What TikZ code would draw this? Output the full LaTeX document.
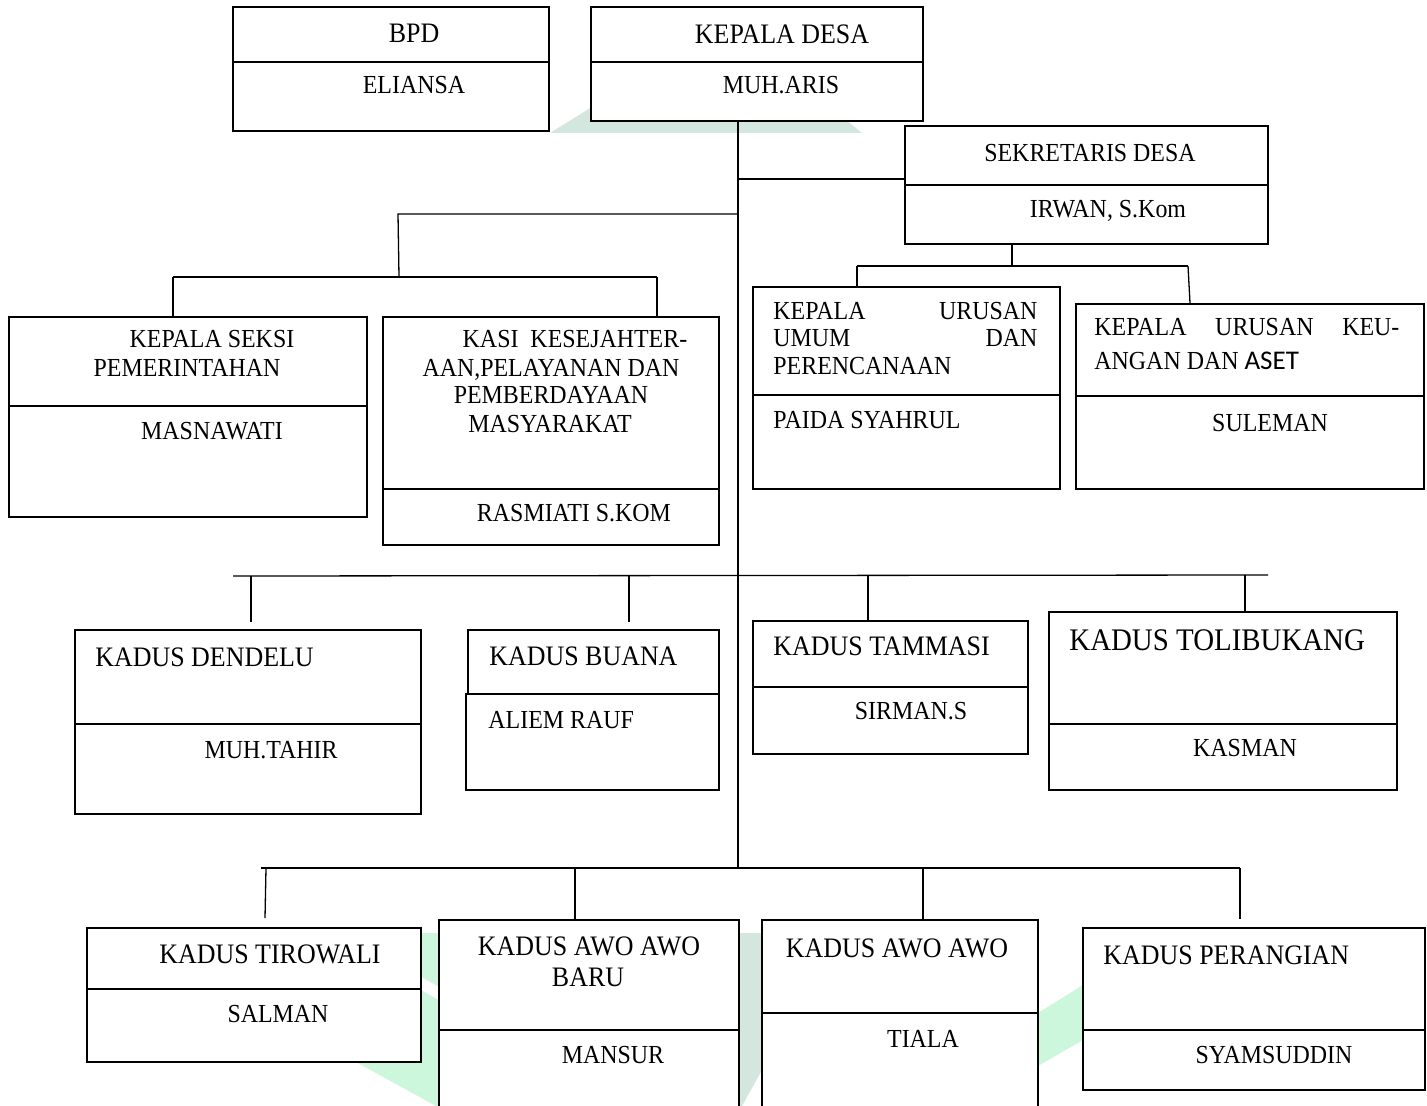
\documentclass[tikz,border=0pt]{standalone}
\usepackage{fontspec}
\setmainfont{Liberation Serif}[FakeStretch=0.92]
\newfontfamily\carlitofont{Carlito}
\usetikzlibrary{fit}
\definecolor{wmgrey}{HTML}{D4E7DE}
\definecolor{wmmint}{HTML}{CCF7DD}
\begin{document}
\begin{tikzpicture}[x=0.5pt,y=-0.5pt,
  box/.style={draw, line width=0.8pt, fill=white, inner sep=0pt},
  conn/.style={line width=0.65pt},
  nm/.style={inner sep=0pt, anchor=base, font=\fontsize{13}{15}\selectfont},
  tt/.style={inner sep=0pt, anchor=base, font=\fontsize{14.1}{16}\selectfont},
  nml/.style={nm, anchor=base west},
  ttl/.style={tt, anchor=base west}]
\fill[white] (0,0) rectangle (1427,1106);
\useasboundingbox (0,0) rectangle (1427,1106);
\clip (0,0) rectangle (1427,1106);
% watermark fragments
\fill[wmgrey] (550,133) -- (592,107) -- (830,107) -- (862,133) -- cycle;
\fill[wmmint] (405,933) -- (439,933) -- (439,1106) -- (436,1106) -- (356,1062) -- (405,1062) -- cycle;
\fill[white] (421,977) -- (439,987) -- (439,1000) -- (421,990) -- cycle;
\fill[wmgrey] (740,933) -- (762,933) -- (762,1070) -- (742,1106) -- (740,1106) -- cycle;
\fill[wmmint] (1038,1013) -- (1083,985) -- (1083,1040) -- (1038,1066) -- cycle;
% junction coordinates
\coordinate (trTop) at (738,121);
\coordinate (trBot) at (738,867);
\coordinate (jSd) at (738,179);
\coordinate (jL) at (738,214);
\coordinate (jL2) at (398,214);
\coordinate (jL3) at (399,277);
\coordinate (hLa) at (173,277);
\coordinate (hLb) at (657,277);
\coordinate (jS1) at (1012,244);
\coordinate (jS2) at (1012,266);
\coordinate (hSa) at (857,266);
\coordinate (hSb) at (1188,266);
\coordinate (r1a) at (233,576);
\coordinate (r1b) at (1268,575);
\coordinate (r2a) at (261,868);
\coordinate (r2b) at (1240,868);
\coordinate (d1) at (251,576);
\coordinate (d2) at (629,576);
\coordinate (d3) at (868,575);
\coordinate (d4) at (1245,575);
\coordinate (e1) at (266,868);
\coordinate (e2) at (575,868);
\coordinate (e3) at (923,868);
\coordinate (e4) at (1240,868);
% connectors
\draw[conn] (trTop) -- (trBot);
\draw[conn] (jL) -- (jL2) -- (jL3);
\draw[conn] (hLa) -- (hLb);
\draw[conn] (r1a) -- (r1b);
\draw[conn] (r2a) -- (r2b);
\draw[conn] (jS2) -- (jS1);
\draw[conn] (hSa) -- (hSb);
% boxes
\node[box, fit={(233,7)(549,62)}] (bpdT) {};
\node[box, fit={(233,62)(549,131)}] (bpdB) {};
\node[box, fit={(591,7)(923,62)}] (kdT) {};
\node[box, fit={(591,62)(923,121)}] (kdB) {};
\node[box, fit={(905,126)(1268,185)}] (sdT) {};
\node[box, fit={(905,185)(1268,244)}] (sdB) {};
\node[box, fit={(9,317)(367,406)}] (ksT) {};
\node[box, fit={(9,406)(367,517)}] (ksB) {};
\node[box, fit={(383,317)(719,489)}] (kaT) {};
\node[box, fit={(383,489)(719,545)}] (kaB) {};
\node[box, fit={(753,287)(1060,395)}] (kuT) {};
\node[box, fit={(753,395)(1060,489)}] (kuB) {};
\node[box, fit={(1076,304)(1424,396)}] (kkT) {};
\node[box, fit={(1076,396)(1424,489)}] (kkB) {};
\node[box, fit={(75,630)(421,724)}] (deT) {};
\node[box, fit={(75,724)(421,814)}] (deB) {};
\node[box, fit={(468,630)(719,694)}] (buT) {};
\node[box, fit={(466,694)(719,790)}] (buB) {};
\node[box, fit={(753,621)(1028,687)}] (taT) {};
\node[box, fit={(753,687)(1028,754)}] (taB) {};
\node[box, fit={(1049,612)(1397,724)}] (toT) {};
\node[box, fit={(1049,724)(1397,790)}] (toB) {};
\node[box, fit={(87,928)(421,989)}] (tiT) {};
\node[box, fit={(87,989)(421,1062)}] (tiB) {};
\node[box, fit={(439,920)(739,1030)}] (abT) {};
\node[box, fit={(439,1030)(739,1115)}] (abB) {};
\node[box, fit={(762,920)(1038,1013)}] (awT) {};
\node[box, fit={(762,1013)(1038,1115)}] (awB) {};
\node[box, fit={(1083,928)(1425,1030)}] (peT) {};
\node[box, fit={(1083,1030)(1425,1090)}] (peB) {};
% connectors to boxes
\draw[conn] (jSd) -- (jSd -| sdT.west);
\draw[conn] (hLa) -- (hLa |- ksT.north);
\draw[conn] (hLb) -- (hLb |- kaT.north);
\draw[conn] (jS1) -- (jS1 |- sdB.south);
\draw[conn] (hSa) -- (hSa |- kuT.north);
\draw[conn] (hSb) -- ([xshift=1pt]hSb |- kkT.north);
\draw[conn] (d1) -- ([yshift=3.5pt]d1 |- deT.north);
\draw[conn] (d2) -- ([yshift=3.5pt]d2 |- buT.north);
\draw[conn] (d3) -- (d3 |- taT.north);
\draw[conn] (d4) -- (d4 |- toT.north);
\draw[conn] (e1) -- ([xshift=-0.5pt,yshift=4.5pt]e1 |- tiT.north);
\draw[conn] (e2) -- (e2 |- abT.north);
\draw[conn] (e3) -- (e3 |- awT.north);
\draw[conn] (e4) -- ([yshift=4pt]e4 |- peT.north);
% texts
\node[tt] (bpdL) at (414,43) {BPD};
\node[nm] (bpdN) at (414,94) {ELIANSA};
\node[tt] (kdL) at (782,44) {KEPALA DESA};
\node[nm] (kdN) at (781,94) {MUH.ARIS};
\node[nm] (sdL) at (1090,162) {SEKRETARIS DESA};
\node[nm] (sdN) at (1108,218) {IRWAN, S.Kom};
\node[nm] (ksL1) at (212,348) {KEPALA SEKSI};
\node[nm] (ksL2) at (187,377) {PEMERINTAHAN};
\node[nm] (ksN) at (212,439) {MASNAWATI};
\node[nm] (kaL1) at (575,348) {KASI\ \ KESEJAHTER-};
\node[nm] (kaL2) at (551,377) {AAN,PELAYANAN DAN};
\node[nm] (kaL3) at (551,404) {PEMBERDAYAAN};
\node[nm] (kaL4) at (550,432) {MASYARAKAT};
\node[nm] (kaN) at (574,521) {RASMIATI S.KOM};
\node[nml] (kuL1) at (773,320) {\makebox[132pt][s]{KEPALA\hfill URUSAN}};
\node[nml] (kuL2) at (773,347) {\makebox[132pt][s]{UMUM\hfill DAN}};
\node[nml] (kuL3) at (773,375) {PERENCANAAN};
\node[nml] (kuN) at (773,429) {PAIDA SYAHRUL};
\node[nml] (kkL1) at (1094,336) {\makebox[152.5pt][s]{KEPALA\hfill URUSAN\hfill KEU-}};
\node[nml] (kkL2) at (1094,370) {ANGAN DAN {\carlitofont\fontsize{13.5}{15}\selectfont ASET}};
\node[nm] (kkN) at (1270,431) {SULEMAN};
\node[ttl] (deL) at (95,666) {KADUS DENDELU};
\node[nm] (deN) at (271,758) {MUH.TAHIR};
\node[ttl] (buL) at (489,665) {KADUS BUANA};
\node[nml] (buN) at (488,728) {ALIEM RAUF};
\node[ttl] (taL) at (773,655) {KADUS TAMMASI};
\node[nm] (taN) at (911,719) {SIRMAN.S};
\node[ttl, font=\fontsize{15.7}{17}\selectfont] (toL) at (1069,650) {KADUS TOLIBUKANG};
\node[nm] (toN) at (1245,756) {KASMAN};
\node[tt] (tiL) at (270,963) {KADUS TIROWALI};
\node[nm] (tiN) at (278,1022) {SALMAN};
\node[tt] (abL1) at (589,955) {KADUS AWO AWO};
\node[tt] (abL2) at (588,986) {BARU};
\node[nm] (abN) at (613,1063) {MANSUR};
\node[tt] (awL) at (897,957) {KADUS AWO AWO};
\node[nm] (awN) at (923,1047) {TIALA};
\node[ttl] (peL) at (1103,964) {KADUS PERANGIAN};
\node[nm] (peN) at (1274,1063) {SYAMSUDDIN};
\end{tikzpicture}
\end{document}
